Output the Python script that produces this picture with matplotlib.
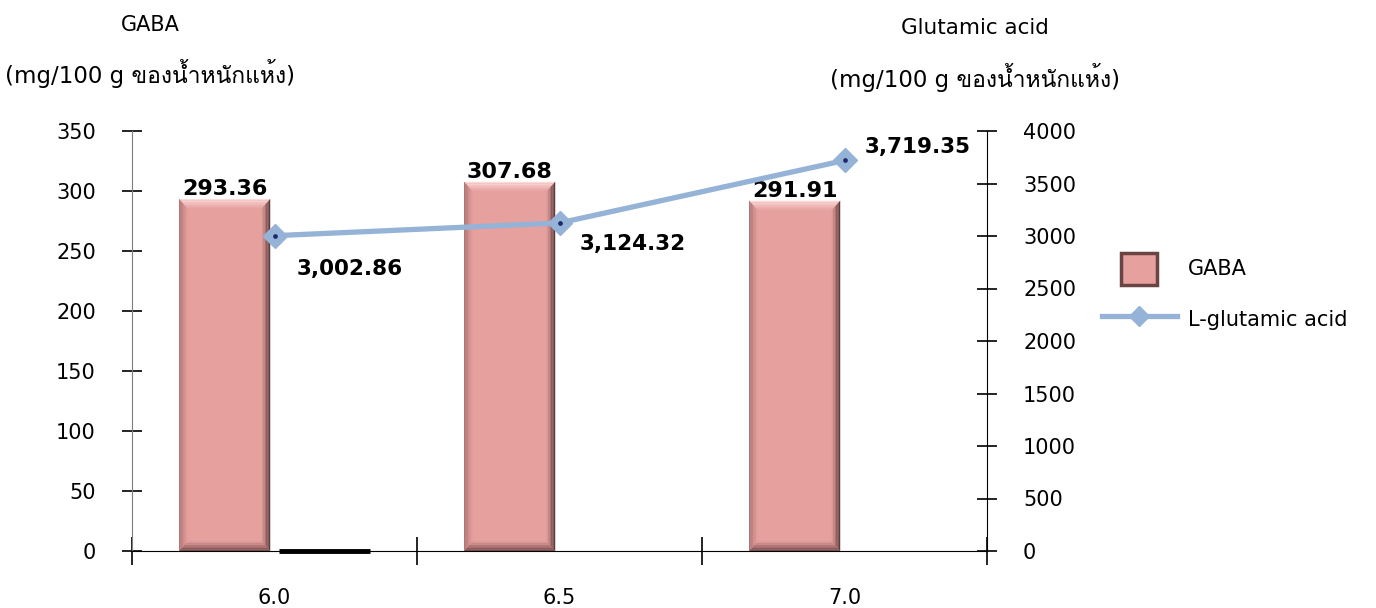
import numpy as np
import matplotlib
matplotlib.use("Agg")
import matplotlib.pyplot as plt
from matplotlib import font_manager
from matplotlib.ft2font import FT2Font
from matplotlib.patches import Polygon, Patch, Rectangle
from matplotlib.lines import Line2D
from matplotlib.legend_handler import HandlerPatch
from matplotlib.colors import to_rgb

# data
categories = ["6.0", "6.5", "7.0"]
gaba = [293.36, 307.68, 291.91]
glutamic = [3002.86, 3124.32, 3719.35]
zero_series = [0.0]          # the flat black bar shown only at pH 6.0
gaba_ticks = [0, 50, 100, 150, 200, 250, 300, 350]
glu_ticks = [0, 500, 1000, 1500, 2000, 2500, 3000, 3500, 4000]

left_title = "GABA"
right_title = "Glutamic acid"
unit_text = "(mg/100 g ของน้ำหนักแห้ง)"


def find_thai_font():
    # look for any installed font that has Thai glyphs
    for f in font_manager.fontManager.ttflist:
        try:
            cmap = FT2Font(f.fname).get_charmap()
        except Exception:
            continue
        if 0x0E02 in cmap and 0x0E49 in cmap:
            return f.name
    return None


thai = find_thai_font()
base = "DejaVu Sans"
fams = [base] + ([thai] if thai else [])
plt.rcParams['font.family'] = fams

BAR_FACE = "#E6A09E"
LINE_COL = "#95B3D7"


def mix(c1, c2, t):
    a = np.array(to_rgb(c1))
    b = np.array(to_rgb(c2))
    return tuple(a + (b - a) * t)


def bevel_bar(ax, x0, w, h, bx, by, n=6):
    x1 = x0 + w
    y0, y1 = 0.0, h
    ax.add_patch(Polygon([(x0, y0), (x1, y0), (x1, y1), (x0, y1)],
                         closed=True, facecolor=BAR_FACE, edgecolor="none", zorder=2))
    edges = {"top": "#FDE0DE", "right": "#4E3232", "bottom": "#6A4343", "left": "#A87070"}
    for k in range(n):
        a = k / n
        b = (k + 1) / n
        t = (k + 0.5) / n
        # top
        ax.add_patch(Polygon([(x0 + bx * a, y1 - by * a), (x1 - bx * a, y1 - by * a),
                              (x1 - bx * b, y1 - by * b), (x0 + bx * b, y1 - by * b)],
                             facecolor=mix(edges["top"], BAR_FACE, t), edgecolor="none", zorder=3))
        # bottom
        ax.add_patch(Polygon([(x0 + bx * a, y0 + by * a), (x1 - bx * a, y0 + by * a),
                              (x1 - bx * b, y0 + by * b), (x0 + bx * b, y0 + by * b)],
                             facecolor=mix(edges["bottom"], BAR_FACE, t), edgecolor="none", zorder=3))
        # left
        ax.add_patch(Polygon([(x0 + bx * a, y0 + by * a), (x0 + bx * a, y1 - by * a),
                              (x0 + bx * b, y1 - by * b), (x0 + bx * b, y0 + by * b)],
                             facecolor=mix(edges["left"], BAR_FACE, t), edgecolor="none", zorder=3))
        # right
        ax.add_patch(Polygon([(x1 - bx * a, y0 + by * a), (x1 - bx * a, y1 - by * a),
                              (x1 - bx * b, y1 - by * b), (x1 - bx * b, y0 + by * b)],
                             facecolor=mix(edges["right"], BAR_FACE, t), edgecolor="none", zorder=3))


def small_square(legend, orig_handle, xdescent, ydescent, width, height, fontsize):
    # legend swatch narrower than the line handle, like the reference
    s_w, s_h = 26, 23
    return Rectangle((-xdescent + (width - s_w) / 2, -ydescent + (height - s_h) / 2), s_w, s_h)


fig = plt.figure(figsize=(13.76, 6.08), dpi=100)
W, H = 1376, 608
ax = fig.add_axes([132 / W, (H - 551) / H, (987 - 132) / W, (551 - 131) / H])
ax2 = ax.twinx()

x = np.arange(len(categories))
bar_w = 0.32
off = 0.175

ax.set_xlim(-0.5, len(categories) - 0.5)
ax.set_ylim(0, 350)
ax2.set_ylim(0, 4000)

# GABA bars with a bevelled look
for xi, v in zip(x, gaba):
    bevel_bar(ax, xi - off - bar_w / 2, bar_w, v, 0.03, 8.0)
    ax.text(xi - off, v, f"{v:.2f}", ha="center", va="bottom",
            fontsize=16, fontweight="bold", zorder=6)

# flat black zero bar
for xi, v in zip(x[:len(zero_series)], zero_series):
    ax.hlines(v, xi + off - bar_w / 2, xi + off + bar_w / 2, colors="black",
              linewidth=3.5, zorder=4, clip_on=False)

# glutamic acid line
ax2.plot(x, glutamic, color=LINE_COL, linewidth=3.8, marker="D", markersize=12,
         markerfacecolor=LINE_COL, markeredgecolor=LINE_COL, zorder=5)
ax2.plot(x, glutamic, linestyle="none", marker="o", markersize=2.4, color="#1F2A6B", zorder=6)
label_offsets = [(54, -24), (53, -15), (53, 10)]
for xi, v, (dx, dy) in zip(x, glutamic, label_offsets):
    ax2.annotate(f"{v:,.2f}", (xi, v), xytext=(dx, dy), textcoords="offset points",
                 ha="center", va="center", fontsize=15.5, fontweight="bold", zorder=7)

# axes styling
for a in (ax, ax2):
    a.spines["top"].set_visible(False)
ax.set_zorder(1)
ax2.set_zorder(2)
ax.spines["right"].set_visible(False)
ax2.spines["left"].set_visible(False)
ax2.spines["bottom"].set_visible(False)
ax.spines["left"].set_color("#7F7F7F")
ax.spines["bottom"].set_color("black")
ax2.spines["right"].set_color("black")

ax.set_yticks(gaba_ticks)
ax.tick_params(axis="y", direction="inout", length=14, width=1.2, color="black",
               labelsize=15, pad=19)
ax2.set_yticks(glu_ticks)
ax2.tick_params(axis="y", direction="inout", length=14, width=1.2, color="black",
                labelsize=15, pad=19)

ax.set_xticks(np.arange(-0.5, len(categories), 1.0))
ax.set_xticklabels([])
ax.set_xticks(x, minor=True)
ax.set_xticklabels(categories, minor=True)
ax.tick_params(axis="x", which="major", direction="inout", length=20, width=1.2, color="black")
ax.tick_params(axis="x", which="minor", length=0, labelsize=15, pad=27)

# axis titles
fig.text(150 / W, 1 - 25 / H, left_title, ha="center", va="center", fontsize=15)
fig.text(150 / W, 1 - 73 / H, unit_text, ha="center", va="center", fontsize=16.5)
fig.text(975 / W, 1 - 28 / H, right_title, ha="center", va="center", fontsize=15.5)
fig.text(975 / W, 1 - 78 / H, unit_text, ha="center", va="center", fontsize=16.5)

# legend
handles = [Patch(facecolor=BAR_FACE, edgecolor="#6A4343", linewidth=2.5),
           Line2D([], [], color=LINE_COL, linewidth=3.8, marker="D", markersize=10,
                  markerfacecolor=LINE_COL)]
fig.legend(handles, ["GABA", "L-glutamic acid"], loc="center left",
           bbox_to_anchor=(1083 / W, 1 - 294 / H), frameon=False, fontsize=15,
           handlelength=3.6, handleheight=1.6, labelspacing=1.15, handletextpad=0.55,
           handler_map={Patch: HandlerPatch(patch_func=small_square)})

fig.savefig("out.png", dpi=100)
